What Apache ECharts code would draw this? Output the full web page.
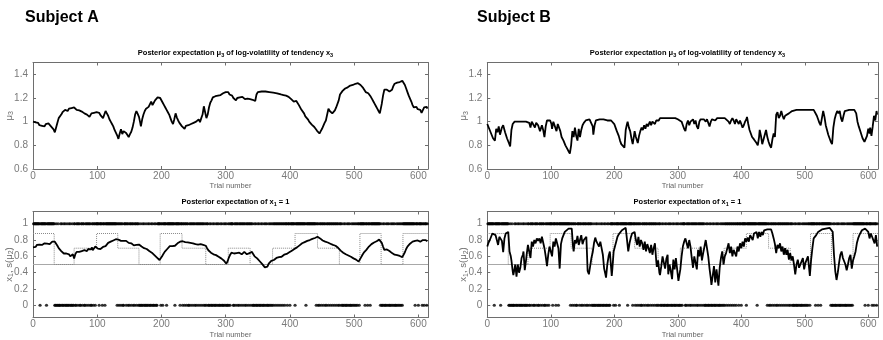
<!DOCTYPE html>
<html>
<head>
<meta charset="utf-8">
<script src="https://cdn.jsdelivr.net/npm/echarts@6/dist/echarts.min.js"></script>
<style>
html, body { margin: 0; padding: 0; background: #fff; }
#chart { width: 883px; height: 340px; }
</style>
</head>
<body>
<div id="chart"></div>
<script>
// ---- axis ticks ----
const xTicks = [0, 100, 200, 300, 400, 500, 600];
const muTicks = [0.6, 0.8, 1, 1.2, 1.4];
const probTicks = [0, 0.2, 0.4, 0.6, 0.8, 1];
const trialMax = 615;
const nTrials = 614;

// ---- Subject A: posterior expectation mu3, [trial, value] ----
const muA = [[0,1.00],[2,0.99],[4,0.995],[6,0.98],[8,0.99],[10,0.97],[12,0.98],[14,0.965],[16,0.975],[18,0.96],[20,0.98],[22,0.965],[24,0.985],[26,0.975],[28,0.96],[30,0.95],[32,0.935],[34,0.91],
[36,0.95],[38,0.99],[40,1.03],[42,1.045],[44,1.06],[46,1.08],[48,1.075],[50,1.10],[52,1.105],[54,1.09],[56,1.11],[58,1.10],[60,1.115],[62,1.125],[64,1.12],
[66,1.105],[68,1.10],[70,1.11],[72,1.095],[74,1.10],[76,1.085],[78,1.09],[80,1.07],[82,1.075],[84,1.06],[86,1.065],[88,1.04],[90,1.03],[91,1.07],[93,1.06],[95,1.075],[97,1.065],[99,1.08],[101,1.07],[103,1.075],[105,1.055],[107,1.05],[109,1.03],[111,1.045],[113,1.09],[115,1.07],[117,1.05],[119,1.02],[121,1.00],
[123,0.98],[125,0.96],[127,0.93],[129,0.915],[131,0.885],[133,0.855],[135,0.90],[137,0.935],[139,0.895],[141,0.92],[143,0.935],[145,0.905],[147,0.89],[149,0.87],[151,0.895],[153,0.915],[155,0.95],[157,1.00],[159,1.06],[161,1.09],[163,1.065],[165,1.04],[167,0.99],[168,0.96],[170,1.02],[172,1.06],[174,1.09],[176,1.11],[178,1.10],[180,1.125],[182,1.14],[184,1.17],[186,1.14],[188,1.16],[190,1.18],[192,1.19],[194,1.205],[196,1.21],[198,1.20],
[200,1.185],[202,1.16],[204,1.14],[206,1.12],[208,1.10],[210,1.08],[212,1.06],[214,1.03],[216,1.00],[218,0.98],[220,1.02],[222,1.07],[224,1.035],[226,1.01],[228,0.99],[230,0.975],[232,0.96],[234,0.95],[236,0.94],[238,0.965],[240,0.95],[242,0.97],[244,0.955],[246,0.98],[248,0.97],[250,0.99],[252,0.975],[254,1.00],[256,0.985],[258,1.02],[260,0.995],[262,1.03],[264,1.06],[266,1.13],[268,1.08],[270,1.03],[272,1.06],[274,1.12],[276,1.16],[278,1.18],[280,1.205],[282,1.19],[284,1.215],[286,1.20],[288,1.22],[290,1.21],[292,1.225],[294,1.23],[296,1.24],[298,1.245],
[300,1.25],[302,1.245],[304,1.25],[306,1.23],[308,1.215],[310,1.22],[312,1.20],[314,1.19],[316,1.18],[318,1.20],[320,1.19],[322,1.205],[324,1.195],[326,1.21],[328,1.20],[330,1.19],[332,1.205],[334,1.195],[336,1.21],[338,1.19],[340,1.20],[342,1.185],[344,1.19],[346,1.175],[348,1.23],
[350,1.25],[353,1.25],[356,1.255],[359,1.25],[362,1.255],[365,1.25],[368,1.25],[371,1.245],[374,1.245],[377,1.24],[380,1.24],[383,1.235],[386,1.23],[388,1.235],[390,1.225],[392,1.225],[394,1.22],[396,1.215],[398,1.21],
[400,1.205],[402,1.19],[404,1.185],[406,1.17],[408,1.165],[410,1.175],[412,1.16],[414,1.14],[416,1.125],[418,1.10],[420,1.085],[422,1.07],[424,1.045],[426,1.03],[428,1.02],[430,1.00],[432,0.985],[434,0.975],[436,0.96],[438,0.955],[440,0.94],[442,0.925],[444,0.915],[446,0.90],[448,0.92],[450,0.94],[452,0.925],[454,0.99],[456,1.01],[458,0.995],[460,1.11],[462,1.09],[464,1.08],[466,1.07],[468,1.085],[470,1.095],[472,1.12],[474,1.13],[476,1.18],[478,1.23],[480,1.24],[482,1.26],[484,1.27],[486,1.28],[488,1.285],[490,1.29],[492,1.30],[494,1.305],[496,1.31],[498,1.31],
[500,1.315],[502,1.32],[504,1.33],[506,1.325],[508,1.315],[510,1.31],[512,1.295],[514,1.285],[516,1.27],[518,1.25],[520,1.26],[522,1.24],[524,1.225],[526,1.21],[528,1.19],[530,1.17],[532,1.15],[534,1.13],[536,1.11],[538,1.09],[540,1.07],[541,1.055],[543,1.15],[545,1.22],[547,1.27],[549,1.28],[551,1.27],[553,1.275],[555,1.255],[557,1.25],[559,1.27],[561,1.30],[563,1.32],[565,1.325],[567,1.33],[569,1.325],[571,1.335],[573,1.34],[575,1.345],[577,1.34],[579,1.31],[581,1.28],[583,1.25],[585,1.22],[587,1.195],[589,1.17],[591,1.14],[593,1.12],[595,1.11],[597,1.125],[599,1.105],[601,1.12],[603,1.10],[605,1.075],[607,1.09],[609,1.12],[611,1.11],[613,1.125],[614,1.11]];

// ---- Subject A: posterior expectation of x1 = 1, [trial, value] ----
const sA = [[0,0.71],[2,0.72],[4,0.715],[6,0.74],[8,0.73],[10,0.745],[12,0.75],[14,0.74],[16,0.755],[18,0.76],[20,0.74],[22,0.755],[24,0.76],[26,0.75],[28,0.77],[30,0.78],[32,0.80],[34,0.78],[36,0.755],[38,0.73],[40,0.70],[42,0.685],[44,0.665],[46,0.655],[48,0.635],[50,0.625],[52,0.635],[54,0.615],[56,0.625],[58,0.60],[60,0.605],[62,0.625],[64,0.575],[66,0.63],[68,0.655],[70,0.64],[72,0.655],[74,0.645],[76,0.665],[78,0.66],[80,0.675],[82,0.685],[84,0.665],[86,0.69],[88,0.70],[90,0.685],[92,0.71],[93,0.675],[95,0.69],[97,0.72],[99,0.71],
[101,0.695],[103,0.675],[105,0.69],[107,0.70],[109,0.715],[111,0.705],[113,0.725],[115,0.745],[117,0.765],[119,0.77],[121,0.78],[123,0.79],[125,0.795],[127,0.80],[129,0.81],[131,0.82],[133,0.805],[135,0.785],[137,0.79],[139,0.78],[141,0.79],[143,0.775],[145,0.79],[147,0.78],[149,0.765],[151,0.78],[153,0.76],[155,0.75],[157,0.735],[159,0.72],[161,0.74],[163,0.76],[165,0.745],[167,0.735],[169,0.72],[171,0.71],[173,0.70],[175,0.705],[177,0.69],[179,0.675],[181,0.665],[183,0.66],[185,0.645],[187,0.625],[189,0.615],[191,0.60],[193,0.585],[195,0.57],[197,0.555],[199,0.57],
[201,0.60],[203,0.63],[205,0.655],[207,0.67],[209,0.69],[211,0.71],[213,0.725],[215,0.74],[217,0.725],[219,0.715],[221,0.73],[223,0.745],[225,0.76],[227,0.775],[229,0.78],[231,0.79],[233,0.785],[235,0.78],[237,0.775],[239,0.78],[241,0.77],[243,0.775],[245,0.765],[247,0.77],[249,0.76],[251,0.765],[253,0.75],[255,0.76],[257,0.745],[259,0.74],[261,0.75],[263,0.735],[265,0.74],[267,0.75],[269,0.73],[271,0.70],[273,0.675],[275,0.66],[277,0.645],[279,0.63],[281,0.625],[283,0.63],[285,0.615],[287,0.605],[289,0.595],[291,0.58],[293,0.575],[295,0.56],[297,0.55],[299,0.535],
[301,0.51],[303,0.54],[305,0.585],[307,0.62],[309,0.645],[311,0.66],[313,0.635],[315,0.65],[317,0.64],[319,0.655],[321,0.645],[323,0.635],[325,0.625],[327,0.645],[329,0.655],[331,0.64],[333,0.625],[335,0.62],[337,0.64],[339,0.66],[341,0.655],[343,0.625],[345,0.60],[347,0.59],[349,0.575],[351,0.565],[353,0.54],[355,0.53],[357,0.505],[359,0.49],[361,0.465],[363,0.45],[365,0.475],[367,0.51],[369,0.53],[371,0.545],[373,0.56],[375,0.555],[377,0.57],[379,0.58],[381,0.575],[383,0.59],[385,0.60],[387,0.595],[389,0.61],[391,0.62],[393,0.615],[395,0.63],[397,0.64],[399,0.65],
[401,0.66],[403,0.67],[405,0.68],[407,0.69],[409,0.70],[411,0.71],[413,0.72],[415,0.735],[417,0.75],[419,0.76],[421,0.77],[423,0.775],[425,0.785],[427,0.79],[429,0.795],[431,0.80],[433,0.81],[435,0.815],[437,0.82],[439,0.825],[441,0.83],[443,0.84],[445,0.83],[447,0.82],[449,0.805],[451,0.795],[453,0.79],[455,0.78],[457,0.775],[459,0.77],[461,0.76],[463,0.755],[465,0.75],[467,0.74],[469,0.735],[471,0.73],[473,0.72],[475,0.705],[477,0.69],[479,0.67],[481,0.655],[483,0.645],[485,0.63],[487,0.625],[489,0.615],[491,0.61],[493,0.60],[495,0.595],[497,0.58],[499,0.575],
[501,0.57],[503,0.56],[505,0.55],[507,0.535],[509,0.555],[511,0.59],[513,0.62],[515,0.645],[517,0.665],[519,0.68],[521,0.70],[523,0.72],[525,0.735],[527,0.75],[529,0.76],[531,0.77],[533,0.78],[535,0.785],[537,0.795],[539,0.805],[541,0.81],[543,0.765],[545,0.72],[547,0.68],[549,0.675],[551,0.685],[553,0.67],[555,0.665],[557,0.65],[559,0.64],[561,0.635],[563,0.62],[565,0.625],[567,0.615],[569,0.62],[571,0.605],[573,0.60],[575,0.59],[577,0.605],[579,0.65],[581,0.69],[583,0.72],[585,0.74],[587,0.755],[589,0.77],[591,0.78],[593,0.785],[595,0.79],[597,0.80],[599,0.795],[601,0.785],[603,0.78],[605,0.795],[607,0.80],[609,0.79],[611,0.80],[613,0.79],[614,0.785]];

// ---- Subject B: posterior expectation mu3, [trial, value] ----
const muB = [[0,0.98],[3,0.94],[6,0.90],[9,0.86],[12,0.84],[14,0.94],[16,0.91],[18,0.96],[20,0.89],[23,0.95],[25,0.97],[28,0.91],[31,0.86],[34,0.82],[36,0.79],[38,0.93],[40,0.98],[43,1.00],[46,1.01],[49,1.00],[52,1.01],[55,1.00],[58,1.01],[61,1.00],[64,1.01],[66,0.99],[68,0.95],[70,1.00],[72,0.98],[75,0.95],[77,0.99],[80,0.97],[83,0.92],[86,0.97],[88,0.93],[90,0.87],[92,0.96],[94,1.01],[97,1.00],[99,1.01],[101,0.98],[102,0.94],[104,1.00],[107,0.99],[109,0.92],[111,0.98],[113,0.95],[115,0.92],[117,0.87],[120,0.84],[123,0.80],[126,0.77],[128,0.75],[130,0.73],[132,0.80],[134,0.92],[136,0.87],[138,0.95],[140,0.88],[142,0.84],[144,0.94],[146,0.87],[148,0.93],[150,0.97],[152,0.99],[155,1.01],[158,1.02],[161,1.02],[164,1.01],[166,0.96],[167,0.89],[169,0.97],[171,1.01],[174,1.01],[177,1.02],[180,1.01],[183,1.02],[186,1.02],[189,1.01],[192,1.02],[195,1.01],[198,1.00],[200,0.98],[202,0.95],[204,0.92],[207,0.88],[209,0.84],[211,0.81],[213,0.80],[216,0.78],[218,0.93],[220,0.98],[221,1.00],[223,0.95],[225,0.92],[227,0.86],[229,0.81],[231,0.88],[232,0.92],[234,0.87],[237,0.82],[239,0.88],[241,0.92],[243,0.95],[245,0.93],[247,0.97],[249,0.94],[251,0.98],[253,0.96],[256,1.00],[258,0.97],[260,1.00],[262,1.01],[264,0.98],[266,1.01],[268,1.02],[270,1.01],[272,1.03],[276,1.03],[280,1.03],[284,1.03],[288,1.03],[292,1.03],[296,1.03],[300,1.02],[303,1.02],[306,1.00],[308,0.97],[310,0.94],[312,0.92],[314,0.98],[316,1.01],[318,0.97],[320,1.00],[322,0.99],[324,1.02],[326,0.98],[328,1.01],[330,0.96],[332,0.94],[334,1.00],[336,1.02],[338,1.01],[341,1.02],[344,1.00],[346,1.02],[348,0.99],[350,0.96],[352,1.00],[354,1.02],[356,1.03],[359,1.01],[362,1.03],[365,1.02],[368,1.03],[371,1.02],[374,1.03],[377,1.02],[380,1.00],[382,0.98],[384,1.01],[386,1.03],[388,1.01],[390,0.98],[392,1.02],[394,1.00],[396,0.98],[398,1.01],[400,0.98],[402,0.95],[404,0.97],[406,1.00],[408,1.02],[409,1.04],[411,0.98],[413,0.93],[415,0.90],[417,0.87],[420,0.85],[422,0.84],[424,0.82],[426,0.80],[428,0.87],[429,0.93],[431,0.88],[433,0.81],[435,0.85],[437,0.89],[439,0.93],[441,0.87],[443,0.83],[445,0.80],[447,0.78],[449,0.85],[451,0.90],[453,0.87],[455,1.06],[457,1.08],[459,1.03],[461,1.05],[463,1.09],[465,1.05],[467,1.02],[469,1.05],[472,1.06],[475,1.07],[477,1.08],[480,1.09],[483,1.09],[487,1.10],[491,1.10],[495,1.10],[500,1.10],[505,1.10],[510,1.10],[514,1.10],[517,1.09],[519,1.05],[521,1.02],[523,0.99],[525,0.97],[527,1.03],[529,1.09],[531,1.04],[533,0.97],[535,0.93],[537,0.89],[539,0.86],[541,0.83],[543,0.81],[545,0.95],[547,1.02],[549,1.06],[551,1.09],[553,1.07],[555,1.09],[557,1.03],[559,1.00],[561,1.05],[563,1.09],[566,1.10],[570,1.10],[574,1.10],[578,1.10],[581,1.07],[583,1.00],[585,0.96],[588,0.91],[591,0.86],[594,0.83],[596,0.82],[598,0.88],[600,0.94],[602,0.90],[603,0.95],[605,0.88],[607,0.96],[609,1.05],[611,1.01],[613,1.09],[614,1.06]];

// ---- Subject B: posterior expectation of x1 = 1, [trial, value] ----
const sB = [[0,0.72],[2,0.77],[4,0.80],[6,0.84],[8,0.88],[11,0.90],[13,0.86],[15,0.80],[17,0.74],[19,0.84],[21,0.86],[23,0.79],[25,0.65],[27,0.82],[29,0.88],[31,0.90],[33,0.90],[35,0.66],[37,0.60],[38,0.55],[40,0.42],[41,0.37],[43,0.45],[44,0.50],[46,0.35],[48,0.50],[50,0.40],[52,0.46],[54,0.58],[56,0.62],[57,0.66],[59,0.43],[61,0.55],[62,0.62],[64,0.74],[66,0.66],[68,0.58],[70,0.78],[72,0.72],[74,0.80],[76,0.76],[78,0.82],[80,0.79],[82,0.82],[84,0.76],[86,0.84],[88,0.85],[90,0.70],[92,0.60],[94,0.48],[96,0.62],[98,0.72],[100,0.66],[102,0.60],[104,0.78],[106,0.72],[108,0.82],[110,0.84],[112,0.70],[114,0.45],[116,0.75],[118,0.82],[120,0.86],[122,0.90],[125,0.92],[128,0.94],[131,0.95],[133,0.94],[135,0.72],[136,0.66],[138,0.80],[140,0.76],[142,0.85],[144,0.74],[146,0.80],[148,0.86],[150,0.75],[152,0.80],[154,0.78],[156,0.84],[158,0.42],[160,0.38],[162,0.48],[164,0.58],[166,0.65],[168,0.76],[170,0.83],[172,0.78],[174,0.80],[176,0.72],[178,0.78],[180,0.70],[182,0.62],[184,0.45],[186,0.38],[187,0.34],[189,0.50],[191,0.60],[193,0.66],[194,0.56],[196,0.36],[197,0.45],[199,0.66],[201,0.72],[203,0.78],[205,0.84],[207,0.87],[209,0.89],[212,0.92],[215,0.94],[218,0.95],[220,0.95],[222,0.66],[224,0.76],[226,0.83],[228,0.88],[230,0.90],[232,0.90],[234,0.80],[236,0.74],[238,0.84],[240,0.72],[242,0.80],[244,0.76],[246,0.68],[248,0.78],[250,0.66],[252,0.75],[254,0.70],[256,0.64],[258,0.74],[260,0.62],[262,0.70],[264,0.76],[266,0.55],[267,0.47],[269,0.55],[271,0.40],[272,0.37],[274,0.48],[276,0.60],[278,0.62],[280,0.45],[282,0.57],[284,0.62],[285,0.38],[287,0.50],[289,0.42],[291,0.32],[293,0.56],[295,0.44],[297,0.58],[299,0.60],[301,0.30],[302,0.29],[304,0.44],[306,0.60],[308,0.72],[310,0.78],[312,0.82],[314,0.76],[316,0.70],[318,0.80],[320,0.72],[322,0.58],[324,0.46],[326,0.60],[328,0.52],[330,0.44],[332,0.68],[334,0.60],[336,0.72],[338,0.55],[340,0.64],[342,0.66],[344,0.80],[346,0.78],[348,0.60],[350,0.45],[352,0.33],[353,0.25],[355,0.36],[357,0.48],[359,0.28],[361,0.44],[362,0.42],[364,0.24],[366,0.46],[368,0.58],[370,0.66],[372,0.50],[374,0.60],[376,0.64],[378,0.70],[380,0.76],[382,0.64],[384,0.72],[386,0.60],[388,0.68],[390,0.66],[392,0.60],[394,0.72],[396,0.66],[398,0.76],[400,0.70],[402,0.78],[404,0.72],[406,0.82],[408,0.78],[410,0.83],[412,0.78],[414,0.86],[416,0.86],[418,0.80],[420,0.88],[422,0.86],[424,0.90],[426,0.82],[428,0.90],[430,0.84],[432,0.90],[434,0.86],[436,0.92],[438,0.92],[441,0.93],[444,0.93],[447,0.93],[449,0.88],[451,0.82],[453,0.75],[455,0.64],[457,0.74],[459,0.70],[461,0.76],[463,0.66],[465,0.72],[467,0.62],[469,0.70],[471,0.62],[473,0.68],[475,0.56],[477,0.64],[479,0.55],[481,0.60],[483,0.50],[485,0.38],[487,0.50],[489,0.56],[491,0.46],[493,0.50],[495,0.54],[497,0.58],[499,0.44],[501,0.52],[503,0.56],[505,0.60],[507,0.44],[508,0.36],[510,0.56],[512,0.70],[514,0.82],[516,0.80],[518,0.86],[521,0.90],[524,0.92],[527,0.93],[530,0.94],[533,0.94],[536,0.95],[539,0.95],[542,0.95],[544,0.90],[546,0.62],[548,0.42],[550,0.31],[552,0.40],[554,0.52],[556,0.62],[558,0.66],[560,0.58],[562,0.54],[564,0.50],[566,0.43],[568,0.50],[570,0.58],[572,0.62],[574,0.45],[576,0.55],[578,0.60],[580,0.66],[582,0.76],[584,0.82],[586,0.86],[588,0.89],[590,0.92],[592,0.94],[595,0.94],[598,0.95],[600,0.90],[602,0.82],[604,0.88],[606,0.84],[608,0.82],[610,0.76],[612,0.86],[614,0.72]];

// ---- true probability of x1 = 1 (piecewise constant blocks) ----
const blockStart = [0, 33, 64, 99, 132, 165, 198, 232, 269, 304, 338, 373, 408, 443, 477, 509, 542, 576];
const blockLevel = [0.88, 0.5, 0.7, 0.88, 0.7, 0.5, 0.88, 0.7, 0.5, 0.7, 0.5, 0.7, 0.88, 0.7, 0.5, 0.88, 0.5, 0.88];
const blockEnd = 615;

// ---- trials whose outcome was x1 = 0 (all other trials had x1 = 1) ----
const zeroTrials = [11, 21,
  34, 35, 37, 38, 40, 41, 42, 44, 46, 47, 49, 51, 52, 54, 55, 57, 59, 60, 62, 63,
  66, 67, 70, 73, 74, 77, 80, 81, 84, 87, 90, 91, 94, 97,
  103, 108, 112,
  131, 134, 137, 140, 141, 145, 148, 150, 153, 156, 158, 161, 164,
  166, 167, 169, 170, 172, 174, 175, 177, 178, 180, 182, 183, 185, 187, 188, 190, 192, 193,
  199, 202, 208, 221,
  229, 233, 236, 239, 242, 243, 246, 249, 252, 254, 257, 260, 263, 266, 268, 270,
  273, 274, 276, 278, 279, 281, 283, 284, 286, 288, 290, 291, 293, 295, 296, 298, 300, 302, 303, 305, 307,
  312, 313, 316, 319, 321, 324, 327, 330, 332, 335, 338,
  341, 343, 344, 346, 348, 349, 351, 353, 354, 356, 358, 359, 361, 363, 365, 366, 368, 370, 372, 374,
  377, 380, 383, 386, 389, 392, 396, 400, 408,
  425, 441,
  444, 446, 449, 452, 455, 457, 460, 463, 466, 469, 472, 475, 477,
  480, 482, 483, 485, 487, 488, 490, 492, 494, 495, 497, 499, 501, 503, 505, 508,
  517, 521, 525,
  541, 543, 544, 546, 548, 549, 551, 553, 555, 556, 558, 560, 562, 564, 565, 567, 569, 571, 573, 575,
  595, 600, 606, 609, 613];

// ---- derived plotting tables ----
const zeroSet = new Set(zeroTrials);
const onePts = [], zeroPts = [];
for (let t = 1; t <= nTrials; t++) {
  if (zeroSet.has(t)) zeroPts.push([t, 0]); else onePts.push([t, 1]);
}
const stepPts = [];
blockStart.forEach((s, i) => {
  const e = i + 1 < blockStart.length ? blockStart[i + 1] : blockEnd;
  stepPts.push([s, blockLevel[i]], [e, blockLevel[i]]);
});

const FONT = '"Liberation Sans", Arial, sans-serif';
const AXIS_COLOR = '#6e6e6e';
const LABEL_COLOR = '#7a7a7a';

const grids = [
  { left: 33, top: 62.5, width: 395, height: 106.5 },
  { left: 33, top: 211.5, width: 395, height: 106 },
  { left: 487.3, top: 62.5, width: 390.5, height: 106.5 },
  { left: 487.3, top: 211.5, width: 390.5, height: 106 }
];

const nameRich = {
  n: { fontFamily: FONT, fontSize: 9.5, color: '#6a6a6a' },
  s: { fontFamily: FONT, fontSize: 7, color: '#6a6a6a', padding: [5, 0, 0, 0] }
};
const titleRich = {
  b: { fontFamily: FONT, fontSize: 7.5, fontWeight: 'bold', color: '#000' },
  s: { fontFamily: FONT, fontSize: 5.5, fontWeight: 'bold', color: '#000', padding: [5, 0, 0, 0] }
};

function xAxes(g) {
  const common = {
    type: 'value', gridIndex: g, min: 0, max: trialMax,
    axisLine: { show: true, onZero: false, lineStyle: { color: AXIS_COLOR, width: 1 } },
    axisTick: { show: true, inside: true, length: 3, customValues: xTicks, lineStyle: { color: AXIS_COLOR } },
    splitLine: { show: false }
  };
  return [
    Object.assign({}, common, {
      position: 'bottom',
      axisLabel: { show: true, customValues: xTicks, margin: 2, fontFamily: FONT, fontSize: 10, color: LABEL_COLOR },
      name: 'Trial number', nameLocation: 'middle', nameGap: 13, nameMoveOverlap: false,
      nameTextStyle: { fontFamily: FONT, fontSize: 7.5, color: '#666' }
    }),
    Object.assign({}, common, { position: 'top', axisLabel: { show: false } })
  ];
}

function yAxes(g, min, max, ticks, nameText) {
  const common = {
    type: 'value', gridIndex: g, min: min, max: max,
    axisLine: { show: true, onZero: false, lineStyle: { color: AXIS_COLOR, width: 1 } },
    axisTick: { show: true, inside: true, length: 3, customValues: ticks, lineStyle: { color: AXIS_COLOR } },
    splitLine: { show: false }
  };
  return [
    Object.assign({}, common, {
      position: 'left',
      axisLabel: { show: true, customValues: ticks, margin: 5, fontFamily: FONT, fontSize: 10, color: LABEL_COLOR },
      name: nameText, nameLocation: 'middle', nameRotate: 90, nameGap: 18, nameMoveOverlap: false,
      nameTextStyle: { rich: nameRich }
    }),
    Object.assign({}, common, { position: 'right', axisLabel: { show: false } })
  ];
}

const muName = '{n|μ}{s|3}';
const probName = '{n|x}{s|1}{n|, s(μ}{s|2}{n|)}';

const xAxis = [].concat(xAxes(0), xAxes(1), xAxes(2), xAxes(3));
const yAxis = [].concat(
  yAxes(0, 0.6, 1.5, muTicks, muName),
  yAxes(1, -0.15, 1.15, probTicks, probName),
  yAxes(2, 0.6, 1.5, muTicks, muName),
  yAxes(3, -0.15, 1.15, probTicks, probName)
);

const CURVE_W = 1.8;

function muSeries(g, data) {
  return {
    type: 'line', xAxisIndex: 2 * g, yAxisIndex: 2 * g, data: data,
    showSymbol: false, silent: true,
    lineStyle: { color: '#000', width: CURVE_W }
  };
}

function probSeries(g, data) {
  const ax = { xAxisIndex: 2 * g, yAxisIndex: 2 * g, silent: true };
  return [
    Object.assign({ type: 'scatter', data: onePts, symbolSize: 3.2, itemStyle: { color: '#000' } }, ax),
    Object.assign({ type: 'scatter', data: zeroPts, symbolSize: 3.2, itemStyle: { color: '#000' } }, ax),
    Object.assign({ type: 'line', data: [[0, 0.5], [trialMax, 0.5]], showSymbol: false,
      lineStyle: { color: '#a8a8a8', width: 1 } }, ax),
    Object.assign({ type: 'line', data: stepPts, showSymbol: false,
      lineStyle: { color: '#8a8a8a', width: 1, type: 'dotted' } }, ax),
    Object.assign({ type: 'line', data: data, showSymbol: false,
      lineStyle: { color: '#000', width: CURVE_W } }, ax)
  ];
}

const muTitle = '{b|Posterior expectation μ}{s|3}{b| of log-volatility of tendency x}{s|3}';
const probTitle = '{b|Posterior expectation of x}{s|1}{b| = 1}';

const option = {
  animation: false,
  backgroundColor: '#fff',
  title: [
    { text: 'Subject A', left: 20, top: 5, textStyle: { fontFamily: FONT, fontSize: 16, fontWeight: 'bold', color: '#000' } },
    { text: 'Subject B', left: 472, top: 5, textStyle: { fontFamily: FONT, fontSize: 16, fontWeight: 'bold', color: '#000' } },
    { text: muTitle, left: 230.5, top: 42, textAlign: 'center', textStyle: { rich: titleRich } },
    { text: probTitle, left: 230.5, top: 191, textAlign: 'center', textStyle: { rich: titleRich } },
    { text: muTitle, left: 682.5, top: 42, textAlign: 'center', textStyle: { rich: titleRich } },
    { text: probTitle, left: 682.5, top: 191, textAlign: 'center', textStyle: { rich: titleRich } }
  ],
  grid: grids,
  xAxis: xAxis,
  yAxis: yAxis,
  series: [].concat(
    [muSeries(0, muA)],
    probSeries(1, sA),
    [muSeries(2, muB)],
    probSeries(3, sB)
  )
};

const chart = echarts.init(document.getElementById('chart'), null, { renderer: 'canvas' });
chart.setOption(option);
</script>
</body>
</html>
